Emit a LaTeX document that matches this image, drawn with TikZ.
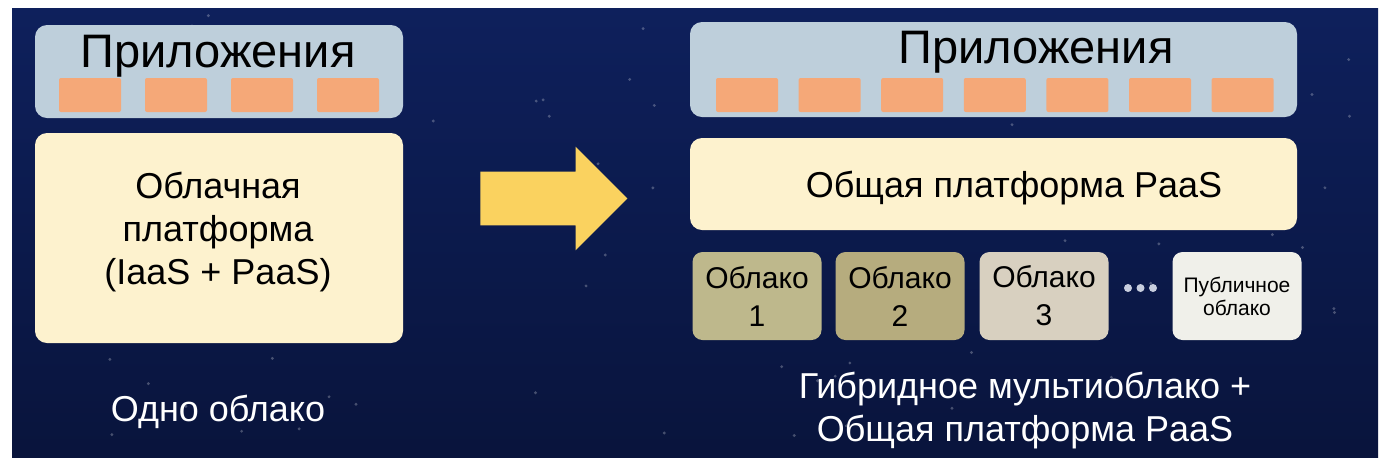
\documentclass[tikz,border=0pt]{standalone}
\usepackage{fontspec}
\setmainfont{Liberation Sans}
\usetikzlibrary{shapes.arrows}
\definecolor{navytop}{RGB}{14,32,92}
\definecolor{navybot}{RGB}{9,20,60}
\definecolor{appblue}{RGB}{190,207,219}
\definecolor{apporange}{RGB}{245,168,120}
\definecolor{platcream}{RGB}{253,242,206}
\definecolor{moveyellow}{RGB}{250,210,95}
\definecolor{cloudA}{RGB}{190,184,140}
\definecolor{cloudB}{RGB}{182,172,126}
\definecolor{cloudC}{RGB}{216,208,192}
\definecolor{cloudD}{RGB}{240,240,234}
\definecolor{dotgrey}{RGB}{200,206,222}

\begin{document}
\begin{tikzpicture}[x=0.5pt,y=-0.5pt]
\useasboundingbox (0,0) rectangle (1387,463);
\fill[white] (0,0) rectangle (1387,463);
\shade[top color=navytop,bottom color=navybot] (12,8) rectangle (1378,457);
% faint stars
\pgfmathsetseed{42}
\foreach \k in {1,...,90}
    \fill[white,opacity=0.25] (20+rnd*1350,15+rnd*435) circle (0.8pt);

\begin{scope}[every node/.style={fill=appblue,rounded corners=6pt,inner sep=0pt}]
    \node[minimum width=184pt,minimum height=46.5pt] (AppsL) at (219,71.5) {};
    \node[minimum width=303.5pt,minimum height=47.5pt] (AppsR) at (993.5,69.5) {};
\end{scope}

\begin{scope}[every node/.style={fill=platcream,rounded corners=6pt,inner sep=0pt}]
    \node[minimum width=184pt,minimum height=105pt] (PlatL) at (219,238) {};
    \node[minimum width=303.5pt,minimum height=46pt] (PlatR) at (993.5,184) {};
\end{scope}

\begin{scope}[every node/.style={fill=apporange,rounded corners=1pt,
              minimum width=31pt,minimum height=17pt,inner sep=0pt}]
    \foreach \i in {0,...,3}
        \node (aL\i) at (90+86*\i,95) {};
    \foreach \i in {0,...,6}
        \node (aR\i) at (747+82.6*\i,95) {};
\end{scope}

\begin{scope}[every node/.style={anchor=base,inner sep=0pt,
              font=\fontsize{23.5}{28}\selectfont}]
    \node (TitleL) at (218,67) {Приложения};
    \node (TitleR) at (1036,63) {Приложения};
\end{scope}

% base of a multi-line node = baseline of its last line
\begin{scope}[every node/.style={anchor=base,inner sep=0pt,align=center,
              font=\fontsize{18}{21.5}\selectfont}]
    \node (PlatLtext) at (218,284) {Облачная\\платформа\\(IaaS + PaaS)};
    \node (PlatRtext) at (1014,197) {Общая платформа PaaS};
    \node[text=white] (SingleL) at (218,421) {Одно облако};
    \node[text=white] (HybridL) at (1025,441) {Гибридное мультиоблако +\\Общая платформа PaaS};
\end{scope}

\node[single arrow,fill=moveyellow,inner xsep=0pt,inner ysep=13.25pt,minimum height=73.5pt,
      minimum width=51.5pt,single arrow head extend=12.5pt] (Move) at (540.5,198.5) {};

\begin{scope}[every node/.style={rounded corners=5pt,inner sep=0pt,align=center,
              minimum width=64.5pt,minimum height=44pt,
              font=\fontsize{15}{19}\selectfont}]
    \node[fill=cloudA] (C1) at (757,296) {Облако\\1};
    \node[fill=cloudB] (C2) at (900,296) {Облако\\2};
    \node[fill=cloudC] (C3) at (1044,296) {Облако\\3};
    \node[fill=cloudD,font=\fontsize{10.5}{11.5}\selectfont] (Pub) at (1237,296) {Публичное\\облако};
\end{scope}

\begin{scope}[every node/.style={circle,fill=dotgrey,inner sep=0pt,minimum size=4pt}]
    \node (d1) at (1128,288) {};
    \node (d2) at (1140.5,288) {};
    \node (d3) at (1153,288) {};
\end{scope}
\end{tikzpicture}
\end{document}
